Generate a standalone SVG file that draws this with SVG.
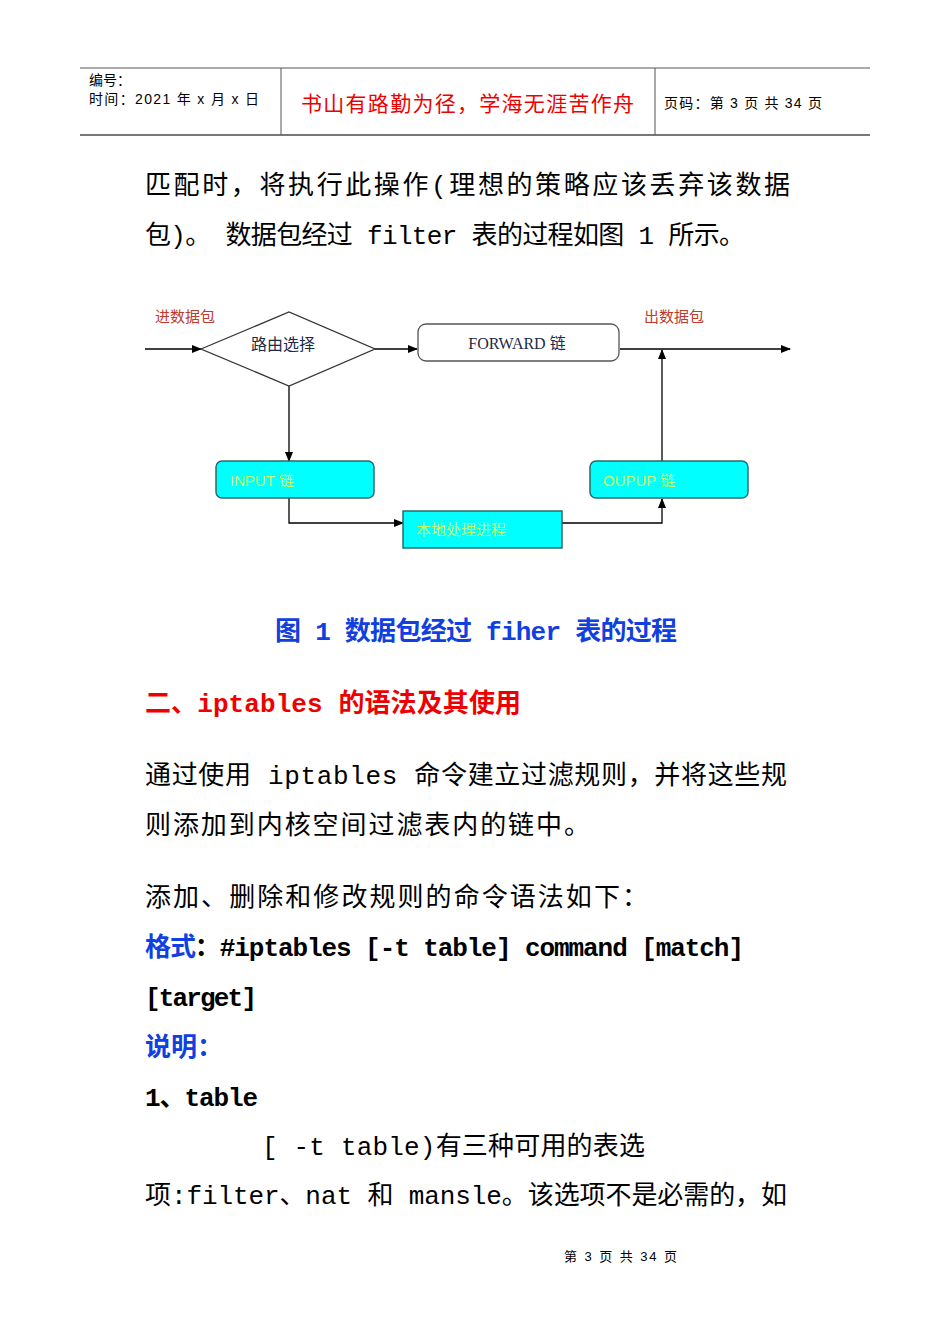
<svg xmlns="http://www.w3.org/2000/svg" width="950" height="1344" viewBox="0 0 950 1344">
<defs>
<marker id="ah" markerWidth="10" markerHeight="8" refX="9" refY="4" orient="auto" markerUnits="userSpaceOnUse"><path d="M0,0 L10,4 L0,8 Z" fill="#000"/></marker>
<style>
.s{font-family:"Liberation Sans","Noto Sans CJK SC",sans-serif}
.m{font-family:"Liberation Mono","Noto Sans CJK SC",monospace;font-size:26px}
.l{stroke:#000;stroke-width:1.3;fill:none}
.cy{fill:#00ffff;stroke:#2a6a6a;stroke-width:1.5}
.yt{fill:#ccff66;font-size:15px}
</style>
</defs>
<rect width="950" height="1344" fill="#fff"/>
<g id="header">
<line x1="80" y1="68" x2="870" y2="68" stroke="#555" stroke-width="1"/>
<line x1="80" y1="135" x2="870" y2="135" stroke="#777" stroke-width="2"/>
<line x1="281" y1="68" x2="281" y2="135" stroke="#555"/>
<line x1="655" y1="68" x2="655" y2="135" stroke="#555"/>
<text class="s" x="89" y="85" font-size="14">编号：</text>
<text class="s" x="89" y="104" font-size="14" textLength="170">时间：2021 年 x 月 x 日</text>
<text class="s" x="301" y="111" font-size="21" fill="#e00" textLength="333">书山有路勤为径，学海无涯苦作舟</text>
<text class="s" x="664" y="108" font-size="14" textLength="158">页码：第 3 页  共 34 页</text>
</g>
<text class="m" x="145" y="194" textLength="645">匹配时，将执行此操作(理想的策略应该丢弃该数据</text>
<text class="m" x="145" y="244" textLength="600">包)。 数据包经过 filter 表的过程如图 1 所示。</text>
<g id="connectors">
<line class="l" x1="145" y1="349" x2="201" y2="349" marker-end="url(#ah)"/>
<line class="l" x1="375" y1="349" x2="417" y2="349" marker-end="url(#ah)"/>
<line class="l" x1="620" y1="349" x2="790" y2="349" marker-end="url(#ah)"/>
<line class="l" x1="289" y1="386" x2="289" y2="461" marker-end="url(#ah)"/>
<polyline class="l" points="289,498 289,523 403,523" marker-end="url(#ah)"/>
<polyline class="l" points="562,523 662,523 662,499" marker-end="url(#ah)"/>
<line class="l" x1="662" y1="461" x2="662" y2="350" marker-end="url(#ah)"/>
</g>
<g id="lbl-in"><text class="s" x="155" y="322" font-size="15" fill="#c0392b">进数据包</text></g>
<g id="lbl-out"><text class="s" x="644" y="322" font-size="15" fill="#c0392b">出数据包</text></g>
<g id="route"><polygon points="201,349 289,312 375,349 289,386" fill="#fff" stroke="#333" stroke-width="1.3"/>
<text class="s" x="283" y="350" font-size="16" text-anchor="middle" fill="#1a2a4a">路由选择</text></g>
<g id="forward"><rect x="418" y="324" width="201" height="37" rx="8" fill="#fff" stroke="#555" stroke-width="1.3"/>
<text x="517" y="349" font-size="16" text-anchor="middle" font-family="Liberation Serif,Noto Sans CJK SC,serif" fill="#1a2a4a">FORWARD 链</text></g>
<g id="input"><rect class="cy" x="216" y="461" width="158" height="37" rx="6"/><text class="s yt" x="230" y="486">INPUT 链</text></g>
<g id="output"><rect class="cy" x="590" y="461" width="158" height="37" rx="6"/><text class="s yt" x="603" y="486">OUPUP 链</text></g>
<g id="local"><rect class="cy" x="403" y="511" width="159" height="37"/><text class="s yt" x="416" y="535">本地处理进程</text></g>
<text class="m" x="275" y="640" font-size="27" fill="#1040e0" font-weight="bold" textLength="402">图 1 数据包经过 fiher 表的过程</text>
<text class="m" x="145" y="712" fill="#e00" font-weight="bold" textLength="376">二、iptables 的语法及其使用</text>
<text class="m" x="145" y="784" textLength="642">通过使用 iptables 命令建立过滤规则，并将这些规</text>
<text class="m" x="145" y="834" textLength="445">则添加到内核空间过滤表内的链中。</text>
<text class="m" x="145" y="906" textLength="503">添加、删除和修改规则的命令语法如下：</text>
<text class="m" x="145" y="956" font-weight="bold" textLength="599"><tspan fill="#1040e0">格式</tspan>：#iptables [-t table] command [match]</text>
<text class="m" x="145" y="1006" font-weight="bold" textLength="112">[target]</text>
<text class="m" x="145" y="1056" font-weight="bold" fill="#1040e0">说明：</text>
<text class="m" x="145" y="1106" font-weight="bold" textLength="113">1、table</text>
<text class="m" x="262" y="1155" textLength="383">[ -t table)有三种可用的表选</text>
<text class="m" x="145" y="1204" textLength="642">项:filter、nat 和 mansle。该选项不是必需的，如</text>
<text class="s" x="564" y="1261" font-size="13" textLength="113">第 3 页 共 34 页</text>
</svg>
